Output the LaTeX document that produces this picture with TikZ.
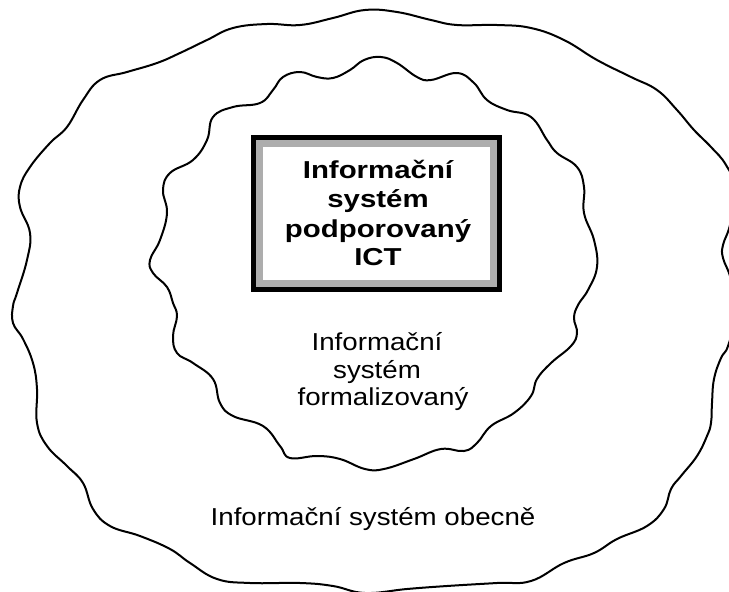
\documentclass[tikz,border=0pt]{standalone}
\usepackage{fontspec}
\setmainfont{Liberation Sans}
\newfontfamily\regf[FakeStretch=1.13]{Liberation Sans}
\newfontfamily\boldf[FakeStretch=1.2]{Liberation Sans}
\begin{document}
\begin{tikzpicture}[x=1pt,y=-1pt,
  wave/.style={line width=2pt, line join=round},
  boldtxt/.style={anchor=base, inner sep=0pt, font=\boldf\bfseries\fontsize{24.5}{29}\selectfont},
  regtxt/.style={anchor=base, inner sep=0pt, font=\regf\fontsize{24.5}{29}\selectfont}]
\useasboundingbox (0,0) rectangle (729,592);
\clip (0,0) rectangle (729,592);
% outer blob
\draw[wave] plot[smooth cycle, tension=0.7] coordinates {
(365,10) (397,12) (431,20) (457,25) (497,25) (531,28) (564,40) (597,60)
(631,77) (657,90) (677,110) (694,130) (711,147) (726,165) (736,190)
(730,225) (723,245) (723,258) (731,280) (735,315) (728,346) (721,358)
(714,379) (712,403) (711,423) (707,436) (697,456) (681,476) (671,489)
(664,509) (647,526) (617,539) (594,553) (564,563) (531,581) (497,583)
(447,586) (407,589) (365,593) (333,586) (300,583) (250,583) (217,579)
(190,563) (170,549) (140,536) (110,526) (93,509) (83,483) (67,466)
(47,446) (37,423) (37,389) (33,363) (23,339) (13,323) (13,306) (17,293)
(27,260) (30,233) (20,207) (20,187) (30,167) (50,143) (67,127) (83,100)
(100,80) (127,72) (157,63) (180,53) (207,40) (233,28) (267,24) (300,25)
(333,18)};
% inner blob
\draw[wave] plot[smooth cycle, tension=0.7] coordinates {
(364,60) (381,57) (397,63) (417,77) (431,80) (457,73) (474,83) (487,100)
(507,110) (531,117) (547,140) (557,153) (577,167) (584,187) (584,213)
(594,240) (597,267) (588,290) (578,305) (574,318) (577,333) (571,346)
(551,363) (537,379) (531,396) (514,413) (491,426) (477,443) (464,451)
(441,449) (414,459) (384,469) (365,469) (340,459) (317,456) (290,458)
(280,446) (263,426) (233,416) (220,403) (213,379) (193,363) (177,353)
(173,336) (177,316) (173,303) (167,287) (153,273) (150,260) (160,240)
(167,213) (163,190) (170,173) (193,160) (207,140) (213,117) (233,107)
(260,103) (273,90) (283,77) (300,72) (317,77) (333,78) (350,70)};
% box
\node[draw=black, line width=5pt, fill=white, minimum width=246pt, minimum height=152pt, inner sep=0pt] (boxouter) at (376.5,213.5) {};
\node[draw=black!32, line width=7pt, minimum width=234pt, minimum height=140pt, inner sep=0pt] (boxinner) at (376.5,213.5) {};
% texts
\node[boldtxt] (b1) at (378,178) {Informační};
\node[boldtxt] (b2) at (378,207.5) {systém};
\node[boldtxt] (b3) at (378,237) {podporovaný};
\node[boldtxt] (b4) at (378,265) {ICT};
\node[regtxt] (r1) at (377,350) {Informační};
\node[regtxt] (r2) at (377,378) {systém};
\node[regtxt] (r3) at (383,405) {formalizovaný};
\node[regtxt] (o1) at (373,525) {Informační systém obecně};
\end{tikzpicture}
\end{document}
